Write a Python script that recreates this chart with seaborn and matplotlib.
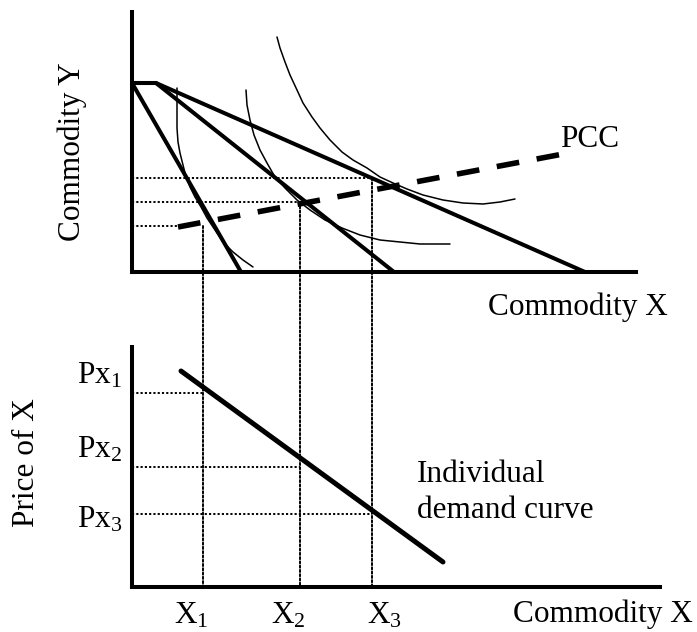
import matplotlib
matplotlib.use("Agg")
import matplotlib.pyplot as plt
from matplotlib.patches import ConnectionPatch
import seaborn as sns

# ---- data ----
# budget lines, top panel (units of X, units of Y)
budget_x = [[0, 10.9], [0, 2.4, 26.2], [0, 2.4, 45.3]]
budget_y = [[18.9, 0], [18.9, 18.9, 0], [18.9, 18.9, 0]]

# indifference curves
ic1_x = [4.5, 4.5, 4.5, 4.5, 4.6, 4.8, 5.1, 5.4, 5.8, 6.3, 6.9, 7.5, 8.3, 9.1, 10.1, 11.1, 12.1]
ic1_y = [18.4, 17.0, 15.7, 14.4, 13.0, 11.9, 10.7, 9.5, 8.5, 7.5, 6.5, 5.4, 4.2, 3.0, 2.0, 1.2, 0.5]
ic2_x = [11.4, 11.5, 11.8, 12.2, 12.8, 13.5, 14.3, 15.3, 16.5, 17.8, 19.3, 21.0, 22.8, 24.8, 26.8, 28.8, 31.8]
ic2_y = [18.2, 16.7, 15.2, 13.7, 12.2, 10.9, 9.5, 8.4, 7.2, 6.2, 5.2, 4.4, 3.7, 3.2, 3.0, 2.8, 2.8]
ic3_x = [14.5, 14.8, 15.3, 15.8, 16.5, 17.1, 18.0, 18.8, 19.8, 21.0, 22.1, 23.5, 24.8, 26.1, 27.5,
         29.1, 31.1, 33.1, 35.1, 36.8, 38.3]
ic3_y = [23.5, 22.4, 21.0, 19.7, 18.2, 16.9, 15.5, 14.4, 13.2, 12.0, 11.2, 10.4, 9.5, 8.9, 8.3,
         7.7, 7.2, 6.9, 6.8, 7.0, 7.3]

# price consumption curve
pcc_x = [4.6, 43.1]
pcc_y = [4.5, 11.8]

# equilibrium points (quantity of X, quantity of Y)
eq_x = [7.1, 16.8, 24.0]
eq_y = [4.6, 7.0, 9.4]
eq_hline_end = [4.8, 16.8, 24.0]

# demand curve, bottom panel
demand_x = [4.9, 31.1]
demand_p = [21.6, 2.5]
prices = [19.4, 12.0, 7.3]

price_labels = ["Px$_1$", "Px$_2$", "Px$_3$"]
qty_labels = ["X$_1$", "X$_2$", "X$_3$"]

# ---- style ----
sns.set_theme(style="white")
plt.rcParams["font.family"] = ["Liberation Serif", "DejaVu Serif"]
plt.rcParams["text.color"] = "black"
plt.rcParams["mathtext.fontset"] = "custom"
plt.rcParams["mathtext.rm"] = "Liberation Serif"
plt.rcParams["mathtext.it"] = "Liberation Serif:italic"
fs = 22.5

W, H = 697, 632
fig = plt.figure(figsize=(W / 100, H / 100), dpi=100)
fig.patch.set_facecolor("white")

# axes placed in pixels: 10 px per unit in both panels
ax1 = fig.add_axes([132 / W, (H - 272) / H, 504 / W, 260 / H])
ax2 = fig.add_axes([132 / W, (H - 587) / H, 528 / W, 240 / H])
ax1.set_xlim(0, 50.4)
ax1.set_ylim(0, 26)
ax2.set_xlim(0, 52.8)
ax2.set_ylim(0, 24)

for ax in (ax1, ax2):
    ax.set_facecolor("white")
    ax.set_xticks([])
    ax.set_yticks([])
    for s in ("top", "right"):
        ax.spines[s].set_visible(False)
    for s in ("left", "bottom"):
        ax.spines[s].set_color("black")
        ax.spines[s].set_linewidth(2.9)
        ax.spines[s].set_capstyle("projecting")

dot = (0, (1.1, 1.1))

# ---- top panel ----
for bx, by in zip(budget_x, budget_y):
    sns.lineplot(x=bx, y=by, ax=ax1, sort=False, estimator=None,
                 color="black", lw=2.9, clip_on=False)

for cx, cy in [(ic1_x, ic1_y), (ic2_x, ic2_y), (ic3_x, ic3_y)]:
    sns.lineplot(x=cx, y=cy, ax=ax1, sort=False, estimator=None,
                 color="black", lw=1.1, clip_on=False,
                 solid_joinstyle="round")

sns.lineplot(x=pcc_x, y=pcc_y, ax=ax1, sort=False, estimator=None,
             color="black", lw=4.0, linestyle=(0, (4.1, 3.2)),
             dash_capstyle="butt")

for xe, ye, xh in zip(eq_x, eq_y, eq_hline_end):
    ax1.plot([0, xh], [ye, ye], color="black", lw=1.4, linestyle=dot)
    con = ConnectionPatch(xyA=(xe, ye), coordsA=ax1.transData,
                          xyB=(xe, 0), coordsB=ax2.transData,
                          color="black", lw=1.4, linestyle=dot)
    fig.add_artist(con)

ax1.text(-6.0, 12.0, "Commodity Y", rotation=90, ha="center", va="center",
         fontsize=fs)
ax1.text(35.6, -4.3, "Commodity X", ha="left", va="baseline", fontsize=fs)
ax1.text(42.8, 12.5, "PCC", ha="left", va="baseline", fontsize=fs)

# ---- bottom panel ----
sns.lineplot(x=demand_x, y=demand_p, ax=ax2, sort=False, estimator=None,
             color="black", lw=3.6)

for xe, p in zip(eq_x, prices):
    ax2.plot([0, xe], [p, p], color="black", lw=1.4, linestyle=dot)

for lab, yb in zip(price_labels, [20.3, 13.0, 6.0]):
    ax2.text(-1.0, yb, lab, ha="right", va="baseline", fontsize=fs)

for lab, xc in zip(qty_labels, [5.9, 15.6, 25.2]):
    ax2.text(xc, -3.6, lab, ha="center", va="baseline", fontsize=fs)

ax2.text(38.1, -3.5, "Commodity X", ha="left", va="baseline", fontsize=fs)
ax2.text(28.5, 10.5, "Individual", ha="left", va="baseline", fontsize=fs)
ax2.text(28.5, 6.9, "demand curve", ha="left", va="baseline", fontsize=fs)
ax2.text(-10.5, 12.4, "Price of X", rotation=90, ha="center", va="center",
         fontsize=fs)

fig.savefig("out.png", dpi=100, facecolor="white")
